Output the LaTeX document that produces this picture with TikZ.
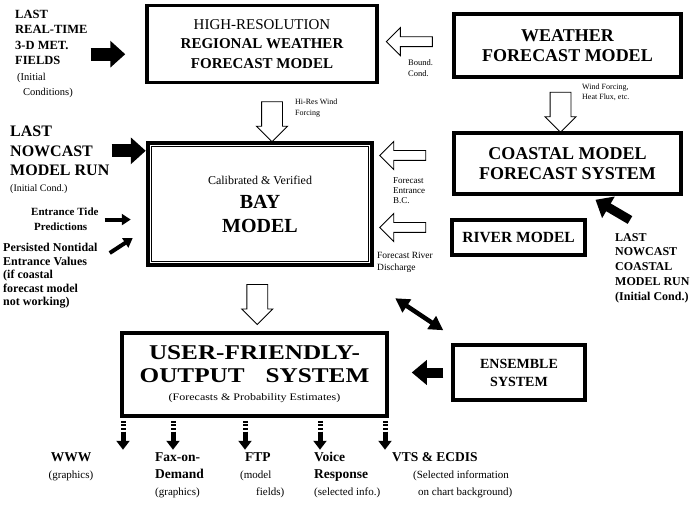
\documentclass[tikz,border=0pt]{standalone}
\usepackage{fontspec}
\setmainfont{Liberation Serif}
\newfontfamily\widefont[FakeStretch=1.2]{Liberation Serif}
\usetikzlibrary{arrows.meta,shapes.arrows,calc}

\begin{document}
\begin{tikzpicture}[x=1pt,y=-1pt,
        box/.style={draw,line width=3.5pt,align=center,inner sep=0pt},
        lbl/.style={align=left,inner sep=0pt,anchor=north west},
        hollowleft/.style={single arrow,draw,line width=0.9pt,inner sep=4.5pt,
            single arrow head extend=9pt,minimum height=46pt,shape border rotate=180},
        hollowdown/.style={single arrow,draw,line width=0.9pt,inner sep=10pt,
            single arrow head extend=5pt,minimum height=40pt,shape border rotate=270},
        fatarrow/.style={line width=13pt,-{Triangle[length=15pt,width=26pt]}},
        midarrow/.style={line width=9pt,-{Triangle[length=15pt,width=24pt]}},
        smallarrow/.style={line width=4pt,-{Triangle[length=9pt,width=11pt]}},
        dblarrow/.style={line width=4.5pt,{Triangle[length=14pt,width=15pt]}-{Triangle[length=14pt,width=15pt]}},
        outarrow/.style={line width=5pt,-{Triangle[length=9pt,width=13pt]}},
        stem/.style={line width=5pt,dash pattern=on 2pt off 1.6pt}]
                            \useasboundingbox (0,0) rectangle (696,505);
                            % Boxes:
                            \node[box,minimum width=230pt,minimum height=77pt,font=\fontsize{15}{19.5}\selectfont] (hires) at (262,44)
                                {\mdseries HIGH-RESOLUTION\\ \bfseries REGIONAL WEATHER\\ \bfseries FORECAST MODEL};
                            \node[box,minimum width=227pt,minimum height=63pt,font=\fontsize{18}{20}\selectfont\bfseries] (weather) at (567.5,45.5)
                                {WEATHER\\FORECAST MODEL};
                            \node[box,minimum width=227pt,minimum height=61pt,font=\fontsize{18}{20}\selectfont\bfseries] (coastal) at (567.5,163.5)
                                {COASTAL MODEL\\FORECAST SYSTEM};
                            \node[box,minimum width=133pt,minimum height=35pt,font=\fontsize{15.5}{18}\selectfont\bfseries] (river) at (518.5,237.5)
                                {RIVER MODEL};
                            \node[box,line width=4.5pt,minimum width=224pt,minimum height=122pt,font=\fontsize{20}{24}\selectfont] (bay) at (260,204)
                                {\fontsize{12}{24}\selectfont Calibrated \& Verified\\ \bfseries BAY\\ \bfseries MODEL};
                            \draw[line width=1.2pt] ([shift={(6pt,-6pt)}]bay.north west) rectangle ([shift={(-6pt,6pt)}]bay.south east);
                            \node[box,minimum width=132pt,minimum height=55pt,font=\fontsize{14}{18}\selectfont\bfseries] (ensemble) at (519,372.5)
                                {ENSEMBLE\\SYSTEM};
                            \node[box,minimum width=265pt,minimum height=83pt,font=\widefont\fontsize{21}{23}\selectfont] (user) at (254.5,374.5)
                                {\bfseries USER-FRIENDLY-\\ \bfseries OUTPUT\quad SYSTEM\\[-5pt]
                                 \fontsize{10}{12}\selectfont (Forecasts \& Probability Estimates)};
                            % Inputs on the left:
                            \node[lbl,font=\fontsize{12.5}{15.5}\selectfont\bfseries] (realtime) at (15,10)
                                {LAST\\REAL-TIME\\3-D MET.\\FIELDS\\
                                 \mdseries\fontsize{10.5}{15.5}\selectfont\hspace*{2pt}(Initial\\
                                 \mdseries\fontsize{10.5}{15.5}\selectfont\hspace*{8pt}Conditions)};
                            \node[lbl,font=\fontsize{16}{19.5}\selectfont\bfseries] (nowcast) at (10,126)
                                {LAST\\NOWCAST\\MODEL RUN\\[-4pt]\mdseries\fontsize{10}{12}\selectfont(Initial Cond.)};
                            \node[lbl,font=\fontsize{11}{15}\selectfont\bfseries] (tide) at (31,208)
                                {Entrance Tide\\\hspace*{3pt}Predictions};
                            \node[lbl,font=\fontsize{12}{13.5}\selectfont\bfseries] (persist) at (3,243)
                                {Persisted Nontidal\\Entrance Values\\(if coastal\\forecast model\\not working)};
                            \node[lbl,font=\fontsize{12}{14.8}\selectfont\bfseries] (crun) at (615,233)
                                {LAST\\NOWCAST\\COASTAL\\MODEL RUN\\(Initial Cond.)};
                            % Hollow arrows and their labels:
                            \node[hollowleft] (bcarrow) at ($(hires.east)!0.45!(weather.west)+(0,-3)$) {};
                            \node[lbl,font=\fontsize{8.5}{11}\selectfont] (bclbl) at (408,59) {Bound.\\Cond.};
                            \node[hollowdown] (hiresarrow) at ($(hires.south)!0.5!(bay.north)+(11,4)$) {};
                            \node[lbl,font=\fontsize{8}{10.5}\selectfont] (hireslbl) at (295,99) {Hi-Res Wind\\Forcing};
                            \node[hollowdown] (windarrow) at ($(weather.south)!0.5!(coastal.north)+(-7,2)$) {};
                            \node[lbl,font=\fontsize{8}{10}\selectfont] (windlbl) at (582,84) {Wind Forcing,\\Heat Flux, etc.};
                            \node[hollowleft] (entrarrow) at ($(coastal.west)+(-47,-8)$) {};
                            \node[lbl,font=\fontsize{9}{10}\selectfont] (entrlbl) at (393,177) {Forecast\\Entrance\\B.C.};
                            \node[hollowleft] (riverarrow) at ($(river.west)+(-45,-10)$) {};
                            \node[lbl,font=\fontsize{9.5}{12}\selectfont] (riverlbl) at (377,252) {Forecast River\\Discharge};
                            \node[hollowdown] (outarrowbig) at ($(bay.south)!0.5!(user.north)$) {};
                            % Black arrows:
                            \coordinate (nowtail) at ([yshift=9pt]nowcast.east);
                            \draw[fatarrow,shorten <=3pt,shorten >=20pt] (realtime.east) -- (realtime.east -| hires.west);
                            \draw[fatarrow,shorten <=2pt] (nowtail) -- (nowtail -| bay.west);
                            \draw[smallarrow,shorten <=6pt,shorten >=15pt] (tide.east) -- (tide.east -| bay.west);
                            \draw[smallarrow] ([shift={(12pt,-10pt)}]persist.north east) -- ++(23pt,15pt);
                            \draw[midarrow] ([shift={(15pt,13pt)}]crun.north west) -- ([shift={(28pt,-4pt)}]coastal.south);
                            \draw[dblarrow] ([shift={(21pt,-31pt)}]bay.south east) -- ([shift={(-8pt,13pt)}]ensemble.north west);
                            \draw[midarrow,line width=10pt,shorten <=8pt,shorten >=23pt] (ensemble.west) -- (ensemble.west -| user.east);
                            % Outputs:
                            \foreach \dx in {-131.5,-81.5,-9.5,65.5,130.5}{
                                \draw[stem] ([xshift=\dx pt,yshift=-3pt]user.south) -- ++(0,-11pt);
                                \draw[outarrow] ([xshift=\dx pt,yshift=-14pt]user.south) -- ++(0,-18pt);
                            }
                            \node[align=center,inner sep=0pt,anchor=north,font=\fontsize{13.5}{17}\selectfont\bfseries] (www) at (71,452)
                                {WWW\\\mdseries\fontsize{11}{17}\selectfont(graphics)};
                            \node[lbl,font=\fontsize{13.5}{17}\selectfont\bfseries] (fax) at (155,452)
                                {Fax-on-\\Demand\\\mdseries\fontsize{11}{17}\selectfont(graphics)};
                            \node[lbl,font=\fontsize{13.5}{17}\selectfont\bfseries] (ftp) at (240,452)
                                {\hspace*{5pt}FTP\\\mdseries\fontsize{11}{17}\selectfont(model\\\mdseries\fontsize{11}{17}\selectfont\hspace*{16pt}fields)};
                            \node[lbl,font=\fontsize{13.5}{17}\selectfont\bfseries] (voice) at (314,452)
                                {Voice\\Response\\\mdseries\fontsize{11}{17}\selectfont(selected info.)};
                            \node[lbl,font=\fontsize{13.5}{17}\selectfont\bfseries] (vts) at (392,452)
                                {VTS \& ECDIS\\\mdseries\fontsize{11}{17}\selectfont\hspace*{21pt}(Selected information\\
                                 \mdseries\fontsize{11}{17}\selectfont\hspace*{26pt}on chart background)};
                        \end{tikzpicture}
\end{document}
